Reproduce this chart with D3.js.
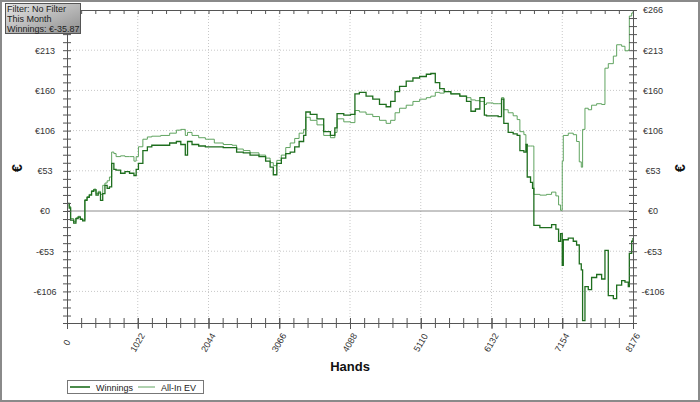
<!DOCTYPE html>
<html>
<head>
<meta charset="utf-8">
<script src="https://cdn.jsdelivr.net/npm/d3@7"></script>
<style>
  body { margin: 0; background: #fff; }
  svg { display: block; font-family: "Liberation Sans", Arial, sans-serif; }
</style>
</head>
<body>
<script>
// hands played, sampled where the graph changes
const hands = [
  0, 32, 52, 97, 129, 161, 193, 226, 258, 290, 322, 355, 387, 419, 451, 484, 516, 548, 580, 613,
  645, 677, 709, 774, 838, 903, 967, 999, 1032, 1096, 1161, 1225, 1354, 1483, 1580, 1644, 1709, 1741, 1806, 1902,
  1999, 2128, 2257, 2386, 2450, 2547, 2644, 2773, 2869, 2934, 2980, 3031, 3096, 3160, 3224, 3289, 3353, 3418, 3450, 3514,
  3611, 3708, 3805, 3869, 3901, 3998, 4095, 4159, 4223, 4320, 4417, 4514, 4610, 4675, 4739, 4804, 4900, 4997, 5094, 5191,
  5255, 5320, 5384, 5449, 5545, 5674, 5771, 5835, 5900, 5964, 6029, 6060, 6156, 6228, 6277, 6310, 6373, 6445, 6503, 6542,
  6600, 6629, 6648, 6696, 6725, 6744, 6831, 6927, 7000, 7062, 7101, 7130, 7154, 7169, 7241, 7313, 7361, 7400, 7429, 7448,
  7482, 7530, 7578, 7651, 7723, 7771, 7819, 7892, 7940, 8012, 8060, 8108, 8123, 8157, 8176
]
const winnings = [
  10, 4, -12, -16, -10, -8, -11, -13, 14, 18, 21, 26, 28, 21, 24, 14, 23, 34, 30, 32,
  63, 55, 54, 50, 52, 50, 47, 55, 63, 80, 85, 87, 87, 90, 92, 88, 74, 92, 88, 86,
  85, 85, 84, 84, 78, 77, 74, 72, 66, 58, 48, 63, 70, 76, 78, 85, 92, 100, 131, 128,
  122, 105, 100, 110, 129, 127, 128, 155, 157, 152, 148, 141, 138, 145, 158, 165, 172, 176, 178, 181,
  182, 170, 162, 158, 155, 152, 145, 132, 135, 150, 127, 126, 126, 125, 148, 116, 104, 102, 100, 80,
  78, 88, 45, 38, 30, -19, -22, -22, -18, -24, -40, -30, -72, -38, -36, -40, -45, -70, -78, -145,
  -100, -104, -88, -84, -90, -52, -112, -116, -98, -92, -94, -100, -56, -40, -35.87
]
const allInEV = [
  10, 6, -10, -14, -9, -7, -10, -12, 15, 19, 22, 27, 29, 23, 26, 22, 34, 37, 40, 45,
  78, 76, 72, 73, 72, 72, 66, 72, 85, 95, 98, 99, 100, 103, 107, 108, 100, 104, 100, 97,
  95, 90, 88, 87, 82, 80, 77, 74, 70, 64, 60, 67, 74, 84, 90, 96, 103, 108, 124, 120,
  114, 100, 97, 104, 122, 118, 117, 133, 131, 128, 125, 120, 116, 120, 130, 136, 140, 145, 148, 150,
  152, 157, 156, 158, 155, 152, 150, 147, 146, 145, 141, 143, 142, 142, 150, 134, 130, 126, 121, 105,
  101, 88, 86, 86, 86, 22, 21, 22, 25, 20, 8, 1, 66, 100, 103, 101, 92, 65, 58, 108,
  136, 134, 140, 142, 141, 189, 195, 205, 220, 218, 212, 213, 258, 262, 264
]

const xTicks = [0, 1022, 2044, 3066, 4088, 5110, 6132, 7154, 8176]
const yTicks = [-106.4, -53.2, 0, 53.2, 106.4, 159.6, 212.8, 266]
const seriesNames = ["Winnings", "All-In EV"]
const infoLines = ["Filter: No Filter", "This Month", "Winnings: \u20ac-35.87"]

const W = 700, H = 402
const margin = {top: 10, right: 67, bottom: 79, left: 67}
const x0 = margin.left, x1 = W - margin.right
const y0 = margin.top, y1 = H - margin.bottom

const x = d3.scaleLinear().domain([0, 8176]).range([x0, x1])
const y = d3.scaleLinear().domain([-148.2, 266]).range([y1, y0])

const fmtEuro = v => (v < 0 ? "-\u20ac" : "\u20ac") + Math.round(Math.abs(v))

const xMinor = d3.range(0, 8176 + 1, 1022 / 5)
const yMinor = d3.range(0, -148, -53.2 / 5).concat(d3.range(0, 266.1, 53.2 / 5))

const svg = d3.select("body").append("svg")
  .attr("width", W)
  .attr("height", H)

svg.append("rect")
  .attr("x", 1).attr("y", 1)
  .attr("width", W - 2).attr("height", H - 2)
  .attr("fill", "#fff")
  .attr("stroke", "#8a8a8a")
  .attr("stroke-width", 2)

// grid
const grid = svg.append("g").attr("stroke", "#c8c8c8").attr("stroke-dasharray", "1,2")
grid.selectAll(".gx").data(xTicks.slice(1, -1)).enter().append("line")
  .attr("x1", d => x(d)).attr("x2", d => x(d))
  .attr("y1", y0).attr("y2", y1)
grid.selectAll(".gy").data(yTicks.filter(d => d !== 0 && d !== 266)).enter().append("line")
  .attr("x1", x0).attr("x2", x1)
  .attr("y1", d => y(d)).attr("y2", d => y(d))

// zero line
svg.append("line")
  .attr("x1", x0).attr("x2", x1)
  .attr("y1", y(0)).attr("y2", y(0))
  .attr("stroke", "#8c8c8c")

// series
const rows = hands.map((h, i) => ({h: h, w: winnings[i], e: allInEV[i]}))

svg.append("clipPath").attr("id", "plot")
  .append("rect").attr("x", x0).attr("y", y0).attr("width", x1 - x0).attr("height", y1 - y0)

const lineEV = d3.line().x(d => x(d.h)).y(d => y(d.e)).curve(d3.curveStepAfter)
const lineW = d3.line().x(d => x(d.h)).y(d => y(d.w)).curve(d3.curveStepAfter)

svg.append("path")
  .datum(rows)
  .attr("clip-path", "url(#plot)")
  .attr("fill", "none")
  .attr("stroke", "#4f9a4f")
  .attr("stroke-width", 0.9)
  .attr("d", lineEV)

svg.append("path")
  .datum(rows)
  .attr("clip-path", "url(#plot)")
  .attr("fill", "none")
  .attr("stroke", "#1e6e1e")
  .attr("stroke-width", 1.3)
  .attr("d", lineW)

// axes
function styleAxis(g) {
  g.select(".domain").attr("stroke", "#555")
  g.selectAll(".tick line").attr("stroke", "#555")
  g.selectAll(".tick text").attr("fill", "#333").attr("font-size", 9)
    .attr("font-family", "Liberation Sans, Arial, sans-serif")
}

// minor ticks (crossing)
svg.append("g").attr("transform", `translate(0,${y1})`)
  .call(d3.axisBottom(x).tickValues(xMinor).tickSize(5).tickFormat(""))
  .call(styleAxis)
  .selectAll(".tick line").attr("y1", -5)
svg.append("g").attr("transform", `translate(0,${y0})`)
  .call(d3.axisBottom(x).tickValues(xMinor).tickSize(4).tickFormat(""))
  .call(styleAxis)
svg.append("g").attr("transform", `translate(${x0},0)`)
  .call(d3.axisLeft(y).tickValues(yMinor).tickSize(4).tickFormat(""))
  .call(styleAxis)
  .selectAll(".tick line").attr("x1", 4)
svg.append("g").attr("transform", `translate(${x1},0)`)
  .call(d3.axisRight(y).tickValues(yMinor).tickSize(4).tickFormat(""))
  .call(styleAxis)
  .selectAll(".tick line").attr("x1", -4)

// x labels
const xAxis = svg.append("g").attr("transform", `translate(0,${y1})`)
  .call(d3.axisBottom(x).tickValues(xTicks).tickSize(6).tickFormat(d3.format("d")))
  .call(styleAxis)
xAxis.selectAll(".tick line").attr("y1", -5)
xAxis.selectAll(".tick text")
  .attr("y", 0).attr("dy", 0)
  .attr("text-anchor", "middle")
  .attr("dominant-baseline", "middle")
  .attr("transform", "translate(0,20) rotate(-60)")

// y labels, centred as in the original; the top-left one sits under the info box
svg.append("g").attr("transform", `translate(${x0},0)`)
  .call(d3.axisLeft(y).tickValues(yTicks.filter(d => d !== 266)).tickSize(0).tickFormat(fmtEuro))
  .call(styleAxis)
  .call(g => g.select(".domain").remove())
  .selectAll(".tick text").attr("x", -22).attr("text-anchor", "middle")
svg.append("g").attr("transform", `translate(${x1},0)`)
  .call(d3.axisRight(y).tickValues(yTicks).tickSize(0).tickFormat(fmtEuro))
  .call(styleAxis)
  .call(g => g.select(".domain").remove())
  .selectAll(".tick text").attr("x", 20).attr("text-anchor", "middle")

// titles
svg.append("text")
  .attr("x", 350).attr("y", 371)
  .attr("text-anchor", "middle")
  .attr("font-size", 13).attr("font-weight", "bold")
  .attr("fill", "#111")
  .text("Hands")

;[17, 680].forEach(function (cx) {
  svg.append("text")
    .attr("transform", `translate(${cx},168) rotate(-90)`)
    .attr("text-anchor", "middle")
    .attr("dominant-baseline", "central")
    .attr("font-size", 14).attr("font-weight", "bold")
    .attr("fill", "#111")
    .text("\u20ac")
})

// legend
const legend = svg.append("g")
legend.append("rect")
  .attr("x", 67.5).attr("y", 380.5).attr("width", 136).attr("height", 13)
  .attr("fill", "#fff").attr("stroke", "#777")
const legX = [70, 138]
const legStyle = [{c: "#1e6e1e", w: 1.6, len: 20}, {c: "#4f9a4f", w: 0.9, len: 17}]
seriesNames.forEach(function (name, i) {
  legend.append("line")
    .attr("x1", legX[i]).attr("x2", legX[i] + legStyle[i].len)
    .attr("y1", 387).attr("y2", 387)
    .attr("stroke", legStyle[i].c).attr("stroke-width", legStyle[i].w)
  legend.append("text")
    .attr("x", legX[i] + legStyle[i].len + 6).attr("y", 390.5)
    .attr("font-size", 9).attr("fill", "#222")
    .text(name)
})

// info box
const defs = svg.append("defs")
const grad = defs.append("linearGradient").attr("id", "infoGrad")
  .attr("x1", "0").attr("y1", "0").attr("x2", "1").attr("y2", "1")
grad.append("stop").attr("offset", "0%").attr("stop-color", "#e6e6e6")
grad.append("stop").attr("offset", "100%").attr("stop-color", "#8e8e8e")

svg.append("rect")
  .attr("x", 5.5).attr("y", 3.5).attr("width", 75).attr("height", 30)
  .attr("fill", "url(#infoGrad)")
  .attr("stroke", "#555")
svg.append("g").selectAll("text").data(infoLines).enter().append("text")
  .attr("x", 7).attr("y", (d, i) => 11.5 + i * 10)
  .attr("font-size", 9).attr("fill", "#222")
  .text(d => d)
</script>
</body>
</html>
